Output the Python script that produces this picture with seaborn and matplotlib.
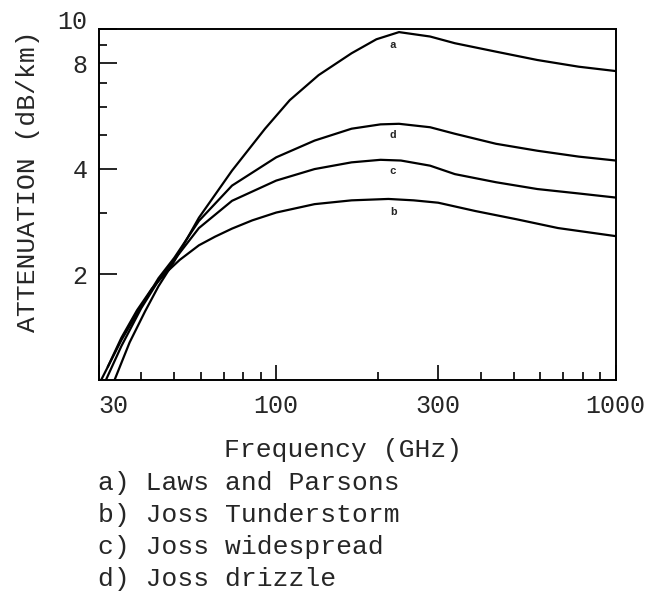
import pandas as pd
import matplotlib
matplotlib.use("Agg")
import matplotlib.pyplot as plt
import matplotlib.ticker as mticker
import seaborn as sns

# Valeurs (GHz, dB/km)
freq_a = [33.4, 37, 41.1, 45, 50.1, 59.2, 74.1, 92.7, 109.6, 133.3, 166.7, 197.3, 230, 284, 336, 444, 588, 778, 1000]
att_a = [1.0, 1.28, 1.57, 1.85, 2.18, 2.90, 3.95, 5.20, 6.27, 7.39, 8.53, 9.35, 9.80, 9.52, 9.11, 8.62, 8.16, 7.81, 7.59]

freq_b = [31.9, 35, 38.9, 43, 47.3, 52, 59.2, 66, 74.1, 85, 100, 129.7, 166.7, 214, 254, 300, 386, 511, 676, 1000]
att_b = [1.09, 1.32, 1.58, 1.82, 2.02, 2.20, 2.42, 2.56, 2.70, 2.85, 3.00, 3.17, 3.25, 3.28, 3.25, 3.20, 3.03, 2.87, 2.71, 2.57]

freq_c = [31.5, 35, 40, 45, 50.1, 59.2, 74.1, 100, 129.7, 166.7, 202.9, 233, 284, 336, 444, 588, 778, 1000]
att_c = [1.0, 1.25, 1.60, 1.92, 2.20, 2.71, 3.24, 3.70, 3.99, 4.17, 4.24, 4.22, 4.08, 3.86, 3.66, 3.50, 3.40, 3.31]

freq_d = [30.5, 35, 40, 45, 50.1, 59.2, 74.1, 100, 129.7, 166.7, 202.9, 230, 284, 336, 444, 588, 778, 1000]
att_d = [1.0, 1.30, 1.62, 1.95, 2.23, 2.84, 3.58, 4.31, 4.81, 5.20, 5.35, 5.37, 5.25, 5.03, 4.71, 4.50, 4.33, 4.22]

# Lettres posées près du sommet des courbes
tag_letters = ["a", "d", "c", "b"]
tag_freq = 221
tag_att = [9.0, 5.0, 3.95, 3.01]

legend_lines = ["a) Laws and Parsons", "b) Joss Tunderstorm", "c) Joss widespread", "d) Joss drizzle"]

x_ticks = [30, 100, 300, 1000]
x_minor = [40, 50, 60, 70, 80, 90, 200, 400, 500, 600, 700, 800, 900]
y_ticks = [2, 4, 8, 10]
y_minor = [3, 5, 6, 7, 9]

df = pd.concat([
    pd.DataFrame({"freq": freq_a, "att": att_a, "curve": "a"}),
    pd.DataFrame({"freq": freq_b, "att": att_b, "curve": "b"}),
    pd.DataFrame({"freq": freq_c, "att": att_c, "curve": "c"}),
    pd.DataFrame({"freq": freq_d, "att": att_d, "curve": "d"}),
])

sns.set_style("ticks")
plt.rcParams['font.family'] = ['Liberation Mono', 'DejaVu Sans']

fig = plt.figure(figsize=(6.46, 5.96), dpi=100)
ax = fig.add_axes([0.1528, 0.3624, 0.8003, 0.5889])

sns.lineplot(data=df, x="freq", y="att", hue="curve", palette=["black"] * 4,
             linewidth=1.6, legend=False, ax=ax)

ax.set_xscale("log")
ax.set_yscale("log")
ax.set_xlim(30, 1000)
ax.set_ylim(1, 10)

ax.xaxis.set_major_locator(mticker.FixedLocator(x_ticks))
ax.xaxis.set_major_formatter(mticker.FixedFormatter([str(v) for v in x_ticks]))
ax.xaxis.set_minor_locator(mticker.FixedLocator(x_minor))
ax.xaxis.set_minor_formatter(mticker.NullFormatter())
ax.yaxis.set_major_locator(mticker.FixedLocator(y_ticks))
ax.yaxis.set_major_formatter(mticker.FixedFormatter([str(v) for v in y_ticks]))
ax.yaxis.set_minor_locator(mticker.FixedLocator(y_minor))
ax.yaxis.set_minor_formatter(mticker.NullFormatter())

ax.tick_params(axis="both", which="both", direction="in", color="black", width=1.2,
               labelsize=18, top=False, right=False)
ax.tick_params(axis="x", which="major", length=11, pad=10)
ax.tick_params(axis="x", which="minor", length=6)
ax.tick_params(axis="y", which="major", length=13, pad=8)
ax.tick_params(axis="y", which="minor", length=6)

for sp in ax.spines.values():
    sp.set_linewidth(1.4)
    sp.set_color("black")

for letter, v in zip(tag_letters, tag_att):
    ax.text(tag_freq, v, letter, fontsize=8, fontweight="bold", ha="center", va="center")

ax.set_xlabel("")
ax.set_ylabel("")

fig.text(343 / 646, 1 - 450 / 596, "Frequency (GHz)", fontsize=19, ha="center", va="center")
fig.text(28 / 646, 1 - 181 / 596, "ATTENUATION (dB/km)", fontsize=19, rotation=90,
         ha="center", va="center")
for i, line in enumerate(legend_lines):
    fig.text(98 / 646, 1 - (483 + 32 * i) / 596, line, fontsize=19, ha="left", va="center")

# "30" décalé à droite, "10" un peu plus haut comme sur l'original
fig.canvas.draw()
for t in ax.xaxis.get_major_ticks():
    if t.label1.get_text() == "30":
        t.label1.set_horizontalalignment("left")
for t in ax.yaxis.get_major_ticks():
    if t.label1.get_text() == "10":
        t.label1.set_verticalalignment("baseline")

fig.savefig("out.png", dpi=100)
